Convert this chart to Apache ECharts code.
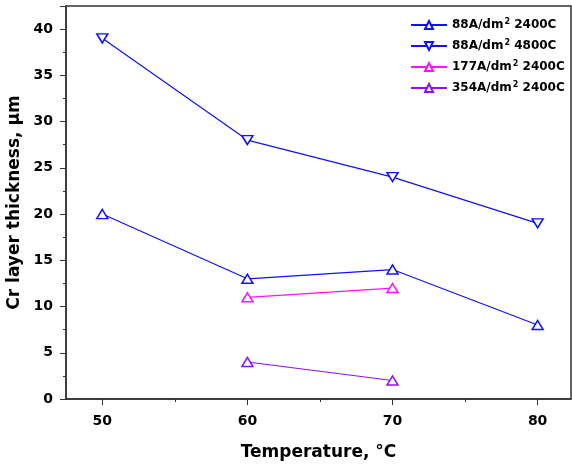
<!DOCTYPE html>
<html>
<head>
<meta charset="utf-8">
<script src="https://cdn.jsdelivr.net/npm/echarts@6/dist/echarts.min.js"></script>
<style>html,body{margin:0;padding:0;background:#fff}#main{width:572px;height:466px}</style>
</head>
<body>
<div id="main"></div>
<script>
// data
var temps = [50, 60, 70, 80];
var minorTemps = [55, 65, 75];
var thick88_2400 = [20, 13, 14, 8];
var thick88_4800 = [39, 28, 24, 19];
var thick177_2400 = [null, 11, 12, null];
var thick354_2400 = [null, 4, 2, null];
var seriesNames = ["88A/dm2 2400C", "88A/dm2 4800C", "177A/dm2 2400C", "354A/dm2 2400C"];
var seriesColors = ["#1010ff", "#1010ff", "#ff10ff", "#8a10ff"];

var FONT = "DejaVu Sans";

function pairs(vals) {
  var out = [];
  temps.forEach(function (t, i) {
    if (vals[i] !== null) out.push([t, vals[i]]);
  });
  return out;
}

var myChart = echarts.init(document.getElementById("main"));

function makeSeries(idx, vals, rotate) {
  return {
    name: seriesNames[idx],
    type: "line",
    xAxisIndex: 0,
    data: pairs(vals),
    symbol: "triangle",
    symbolSize: [11, 9],
    symbolRotate: rotate,
    showAllSymbol: true,
    itemStyle: { color: "#fff", borderColor: seriesColors[idx], borderWidth: 1.5 },
    lineStyle: { color: seriesColors[idx], width: 1.2 },
    color: seriesColors[idx],
  };
}

var axisFont = { fontFamily: FONT, fontWeight: "bold", fontSize: 14, color: "#000" };
var titleFont = { fontFamily: FONT, fontWeight: "bold", fontSize: 17, color: "#000" };

var option = {
  animation: false,
  grid: {
    left: 66, right: 1, top: 6, bottom: 67,
    outerBoundsMode: "none", containLabel: false,
    show: true, borderColor: "#333", borderWidth: 1.5,
  },
  legend: {
    orient: "vertical",
    left: 405,
    top: 13,
    itemWidth: 36,
    itemHeight: 10,
    itemGap: 7,
    data: seriesNames,
    formatter: function (n) {
      var parts = n.split("2 ");
      return "{a|" + parts[0] + "}{s|2}{a| " + parts[1] + "}";
    },
    textStyle: {
      rich: {
        a: { fontFamily: FONT, fontWeight: "bold", fontSize: 12, color: "#000", lineHeight: 14 },
        s: { fontFamily: FONT, fontWeight: "bold", fontSize: 8, color: "#000", verticalAlign: "top", lineHeight: 14, padding: [0, 0, 6, 1] },
      },
    },
  },
  xAxis: [
    {
      type: "value",
      min: 47.5,
      max: 82.3,
      position: "bottom",
      name: "Temperature, °C",
      nameLocation: "middle",
      nameGap: 45,
      nameTextStyle: titleFont,
      axisLine: { lineStyle: { color: "#333", width: 1.5 } },
      axisTick: { length: 6, customValues: temps, lineStyle: { color: "#333" } },
      axisLabel: Object.assign({ margin: 15, customValues: temps }, axisFont),
      splitLine: { show: false },
    },
    {
      type: "value",
      min: 47.5,
      max: 82.3,
      position: "bottom",
      axisLine: { show: false },
      axisTick: { length: 3, customValues: minorTemps, lineStyle: { color: "#333" } },
      axisLabel: { show: false },
      splitLine: { show: false },
    },
  ],
  yAxis: {
    type: "value",
    min: 0,
    max: 42.5,
    interval: 5,
    name: "Cr layer thickness, μm",
    nameLocation: "middle",
    nameGap: 36,
    nameTextStyle: titleFont,
    axisLine: { lineStyle: { color: "#333", width: 1.5 } },
    axisTick: { length: 6, lineStyle: { color: "#333" } },
    minorTick: { show: true, splitNumber: 2, length: 3, lineStyle: { color: "#333" } },
    axisLabel: Object.assign({
      margin: 13,
      formatter: function (v) { return v % 5 === 0 && v <= 40 ? v : ""; },
    }, axisFont),
    splitLine: { show: false },
  },
  series: [
    makeSeries(0, thick88_2400, 0),
    makeSeries(1, thick88_4800, 180),
    makeSeries(2, thick177_2400, 0),
    makeSeries(3, thick354_2400, 0),
  ],
};

myChart.setOption(option);
</script>
</body>
</html>
